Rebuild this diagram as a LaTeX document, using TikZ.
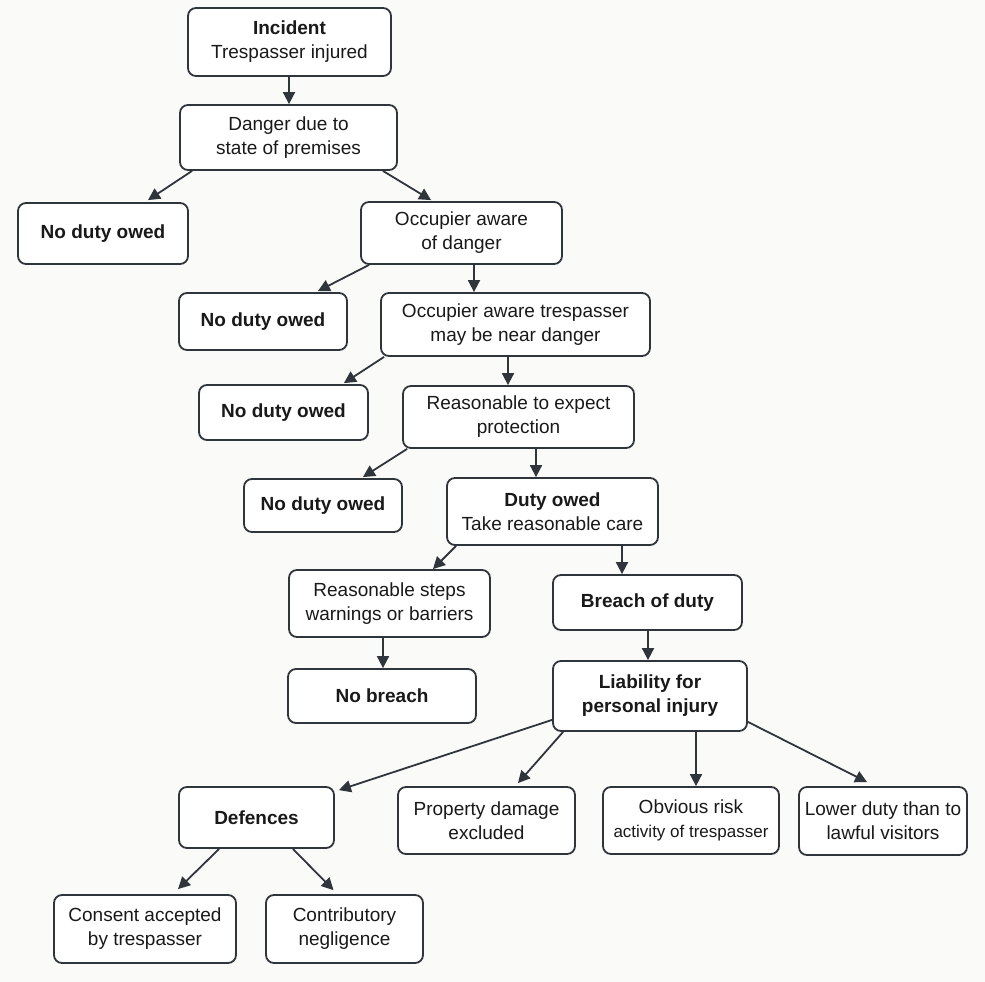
\documentclass[tikz,border=0pt]{standalone}
\usepackage{fontspec}
\setmainfont{Liberation Sans}
\usetikzlibrary{arrows.meta}
\definecolor{edge}{HTML}{30353B}
\definecolor{paper}{HTML}{FAFAF9}
\begin{document}
\begin{tikzpicture}[x=1pt,y=-1pt,
  box/.style={draw=edge,line width=1.8pt,rounded corners=8pt,fill=white,align=center,
    inner sep=0pt,font=\fontsize{19}{24}\selectfont,text=black!90},
  arr/.style={draw=edge,line width=1.8pt,-{Triangle[length=12pt,width=12pt]}}]

\useasboundingbox[fill=paper] (0,0) rectangle (985,982);

% chain of questions
\node[box,minimum width=203pt,minimum height=68pt] (incident) at (289.5,42) {\textbf{Incident}\\Trespasser injured};
\node[box,minimum width=217pt,minimum height=65pt] (danger) at (288.5,137.5) {Danger due to\\state of premises};
\node[box,minimum width=170pt,minimum height=61pt] (noduty1) at (103,233.5) {\textbf{No duty owed}};
\node[box,minimum width=201pt,minimum height=62pt] (aware) at (461.5,233) {Occupier aware\\of danger};
\node[box,minimum width=168pt,minimum height=57pt] (noduty2) at (263,321.5) {\textbf{No duty owed}};
\node[box,minimum width=269pt,minimum height=63pt] (near) at (515.5,324.5) {Occupier aware trespasser\\may be near danger};
\node[box,minimum width=169pt,minimum height=55pt] (noduty3) at (283.5,412.5) {\textbf{No duty owed}};
\node[box,minimum width=231pt,minimum height=62pt] (expect) at (518.5,417) {Reasonable to expect\\protection};
\node[box,minimum width=158pt,minimum height=53pt] (noduty4) at (323,505.5) {\textbf{No duty owed}};
\node[box,minimum width=211pt,minimum height=67pt] (duty) at (552.5,511.5) {\textbf{Duty owed}\\Take reasonable care};

% breach
\node[box,minimum width=201pt,minimum height=67pt] (steps) at (389.5,603.5) {Reasonable steps\\warnings or barriers};
\node[box,minimum width=189pt,minimum height=55pt] (breach) at (647.5,602.5) {\textbf{Breach of duty}};
\node[box,minimum width=188pt,minimum height=54pt] (nobreach) at (382,696) {\textbf{No breach}};
\node[box,minimum width=194pt,minimum height=70pt] (liability) at (650,696) {\textbf{Liability for}\\\textbf{personal injury}};

% outcomes
\node[box,minimum width=155pt,minimum height=61pt] (defences) at (256.5,817.5) {\textbf{Defences}};
\node[box,minimum width=177pt,minimum height=67pt] (property) at (486.5,820.5) {Property damage\\excluded};
\node[box,minimum width=176pt,minimum height=67pt] (obvious) at (691,820.5) {Obvious risk\\{\fontsize{17}{24}\selectfont activity of trespasser}};
\node[box,minimum width=168pt,minimum height=68pt] (lower) at (883,821) {Lower duty than to\\lawful visitors};
\node[box,minimum width=182pt,minimum height=68pt] (consent) at (145,929) {Consent accepted\\by trespasser};
\node[box,minimum width=157pt,minimum height=68pt] (contrib) at (344.5,929) {Contributory\\negligence};

% connectors
\draw[arr] ([xshift=-0.5pt]incident.south) -- ([xshift=-0.5pt]incident.south |- danger.north);
\draw[arr] ([xshift=13pt]danger.south west) -- ([xshift=45pt,yshift=2pt]noduty1.north);
\draw[arr] ([xshift=-15pt]danger.south east) -- ([xshift=71pt,yshift=1pt]aware.north west);
\draw[arr] ([xshift=9pt]aware.south west) -- ([xshift=-30pt,yshift=1pt]noduty2.north east);
\draw[arr] ([xshift=12.5pt]aware.south) -- ([xshift=12.5pt]aware.south |- near.north);
\draw[arr] ([xshift=4pt]near.south west) -- ([xshift=-25pt,yshift=1pt]noduty3.north east);
\draw[arr] ([xshift=-7.5pt]near.south) -- ([xshift=-7.5pt]near.south |- expect.north);
\draw[arr] ([xshift=5pt]expect.south west) -- ([xshift=-40pt,yshift=1pt]noduty4.north east);
\draw[arr] ([xshift=17.5pt]expect.south) -- ([xshift=17.5pt]expect.south |- duty.north);
\draw[arr] ([xshift=10pt]duty.south west) -- ([xshift=-58pt]steps.north east);
\draw[arr] ([xshift=69.5pt]duty.south) -- ([xshift=69.5pt]duty.south |- breach.north);
\draw[arr] ([xshift=-6.5pt]steps.south) -- ([xshift=-6.5pt]steps.south |- nobreach.north);
\draw[arr] ([xshift=0.5pt]breach.south) -- ([xshift=0.5pt]breach.south |- liability.north);
\draw[arr] ([yshift=12pt]liability.south west) -- ([xshift=4pt,yshift=-4pt]defences.north east);
\draw[arr] ([xshift=11pt]liability.south west) -- ([xshift=31.5pt,yshift=3pt]property.north);
\draw[arr] ([xshift=46pt]liability.south) -- ([xshift=46pt]liability.south |- obvious.north);
\draw[arr] ([yshift=10pt]liability.south east) -- ([xshift=69pt,yshift=4pt]lower.north west);
\draw[arr] ([xshift=41pt]defences.south west) -- ([xshift=33pt,yshift=5pt]consent.north);
\draw[arr] ([xshift=-42pt]defences.south east) -- ([xshift=-11pt,yshift=4pt]contrib.north);

\end{tikzpicture}
\end{document}
